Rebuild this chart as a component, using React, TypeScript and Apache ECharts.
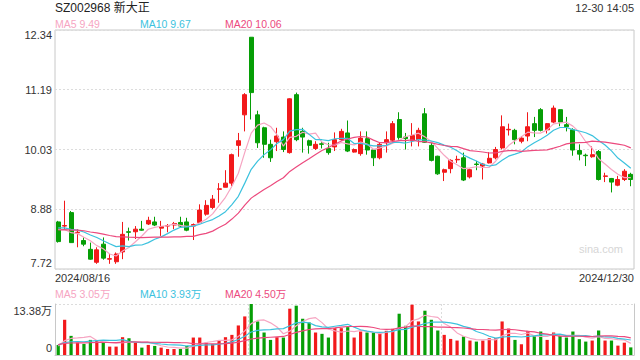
import React, { useEffect, useRef } from 'react';
import * as echarts from 'echarts';

// ---- trading days (categories) ----
const augDays = [16, 19, 20, 21, 22, 23, 26, 27, 28, 29, 30];
const sepDays = [2, 3, 4, 5, 6, 9, 10, 11, 12, 13, 18, 19, 20, 23, 24, 25, 26, 27, 30];
const octDays = [8, 9, 10, 11, 14, 15, 16, 17, 18, 21, 22, 23, 24, 25, 28, 29, 30, 31];
const novDays = [1, 4, 5, 6, 7, 8, 11, 12, 13, 14, 15, 18, 19, 20, 21, 22, 25, 26, 27, 28, 29];
const decDays = [2, 3, 4, 5, 6, 9, 10, 11, 12, 13, 16, 17, 18, 19, 20, 23, 24, 25, 26, 27, 30];

const p2 = (n: number) => String(n).padStart(2, '0');
const dates: string[] = [
  ...augDays.map((d) => `2024/08/${p2(d)}`),
  ...sepDays.map((d) => `2024/09/${p2(d)}`),
  ...octDays.map((d) => `2024/10/${p2(d)}`),
  ...novDays.map((d) => `2024/11/${p2(d)}`),
  ...decDays.map((d) => `2024/12/${p2(d)}`),
];

// ---- prices ----
const opens = [8.63, 8.55, 8.81, 8.42, 8.27, 8.10, 7.85, 8.20, 7.91, 7.86, 8.05, 8.44, 8.44, 8.49, 8.59, 8.63, 8.51, 8.55, 8.57, 8.62, 8.63, 8.55, 8.62, 8.78, 8.91, 9.26, 9.30, 9.38, 10.11, 10.70, 12.20, 10.70, 10.45, 10.13, 10.18, 10.27, 9.97, 11.09, 10.38, 10.20, 10.05, 10.14, 10.05, 10.08, 10.22, 10.35, 9.98, 9.95, 10.24, 10.02, 9.87, 10.16, 10.21, 10.61, 10.27, 10.20, 10.22, 10.72, 10.11, 9.90, 9.59, 9.66, 9.83, 9.87, 9.50, 9.75, 9.71, 9.77, 9.87, 10.06, 10.41, 10.40, 10.19, 10.29, 10.53, 10.80, 10.41, 10.56, 10.80, 10.51, 10.41, 10.01, 9.92, 9.89, 9.99, 9.51, 9.47, 9.34, 9.45, 9.55];
const closes = [8.25, 8.56, 8.23, 8.43, 8.20, 7.91, 8.09, 7.93, 7.92, 8.01, 8.39, 8.43, 8.49, 8.47, 8.66, 8.57, 8.54, 8.56, 8.60, 8.55, 8.47, 8.58, 8.86, 8.95, 9.07, 9.27, 9.38, 9.93, 10.20, 11.09, 11.13, 10.16, 10.13, 9.87, 10.29, 10.03, 11.01, 10.22, 10.27, 10.11, 10.13, 10.13, 9.97, 10.22, 10.38, 10.00, 10.03, 10.25, 10.02, 9.87, 10.13, 10.22, 10.53, 10.26, 10.24, 10.30, 10.40, 10.17, 9.82, 9.56, 9.64, 9.82, 9.84, 9.44, 9.64, 9.74, 9.75, 9.86, 10.03, 10.47, 10.42, 10.22, 10.25, 10.47, 10.40, 10.40, 10.53, 10.83, 10.56, 10.47, 10.02, 9.94, 9.91, 9.93, 9.45, 9.52, 9.40, 9.45, 9.61, 9.45];
const lows = [8.23, 8.49, 8.23, 8.14, 8.16, 7.90, 7.82, 7.90, 7.82, 7.82, 7.91, 8.27, 8.30, 8.46, 8.57, 8.55, 8.36, 8.43, 8.49, 8.52, 8.45, 8.28, 8.61, 8.75, 8.88, 9.00, 9.30, 9.32, 9.89, 10.38, 10.61, 10.06, 9.87, 9.79, 10.00, 9.98, 9.95, 10.19, 9.97, 9.95, 10.02, 10.05, 9.93, 10.00, 10.20, 9.98, 9.97, 9.91, 9.93, 9.71, 9.84, 9.97, 10.19, 10.22, 10.03, 10.09, 10.09, 10.16, 9.80, 9.54, 9.42, 9.57, 9.77, 9.42, 9.47, 9.63, 9.45, 9.76, 9.84, 10.03, 10.30, 10.13, 10.15, 10.19, 10.27, 10.38, 10.34, 10.54, 10.48, 10.38, 9.91, 9.82, 9.71, 9.87, 9.43, 9.40, 9.20, 9.32, 9.42, 9.32];
const highs = [8.65, 9.04, 8.84, 8.49, 8.33, 8.23, 8.14, 8.33, 8.01, 8.04, 8.63, 8.52, 8.55, 8.65, 8.73, 8.73, 8.65, 8.59, 8.63, 8.73, 8.71, 8.60, 8.97, 9.05, 9.15, 9.38, 9.63, 9.95, 10.35, 11.12, 12.20, 10.78, 10.47, 10.22, 10.45, 10.38, 11.02, 11.13, 10.45, 10.22, 10.19, 10.19, 10.16, 10.36, 10.43, 10.59, 10.05, 10.38, 10.38, 10.03, 10.16, 10.38, 10.58, 10.75, 10.35, 10.54, 10.45, 10.83, 10.16, 9.91, 9.66, 9.84, 9.91, 9.97, 9.66, 9.81, 9.77, 9.98, 10.08, 10.69, 10.53, 10.43, 10.29, 10.75, 10.66, 10.83, 10.54, 10.88, 10.80, 10.66, 10.44, 10.13, 9.95, 10.09, 10.02, 9.58, 9.48, 9.52, 9.65, 9.58];
// closes before 2024/08/16 (estimated from where the MA lines start)
const priorCloses = [8.38, 8.45, 8.41, 8.47, 8.40, 8.44, 8.39, 8.46, 8.43, 8.50, 8.56, 8.52, 8.58, 8.55, 8.51, 8.57, 8.54, 8.52, 8.55];

// ---- volumes (万) ----
const volumes = [2.64, 9.24, 5.02, 3.26, 2.90, 3.96, 3.79, 3.26, 2.20, 2.20, 4.67, 4.40, 3.26, 1.94, 2.64, 2.38, 1.94, 1.58, 1.58, 1.58, 2.38, 4.58, 4.58, 3.26, 2.90, 3.79, 4.67, 5.28, 7.75, 10.12, 13.38, 8.80, 5.90, 3.96, 4.67, 4.58, 12.15, 12.94, 9.51, 8.54, 5.90, 5.55, 4.58, 7.04, 7.04, 7.31, 4.58, 6.16, 5.90, 5.90, 5.55, 6.34, 6.87, 10.83, 7.66, 13.20, 8.80, 11.62, 9.24, 6.43, 5.28, 4.22, 3.79, 4.84, 3.79, 3.52, 3.79, 4.40, 4.40, 8.80, 6.93, 3.96, 2.82, 6.34, 5.02, 6.16, 3.96, 5.90, 5.02, 4.58, 6.16, 4.15, 3.52, 3.79, 6.43, 3.79, 3.79, 2.46, 3.23, 2.00];
const priorVolumes = [2.6, 3.1, 2.4, 2.9, 3.3, 2.7, 2.5, 3.0, 2.8, 2.6, 3.2, 2.9, 2.7, 3.4, 2.5, 2.3, 2.1, 2.6, 2.2];

// ---- axis ticks ----
const priceMin = 7.72;
const priceMax = 12.34;
const priceTickValues = [7.72, 8.875, 10.03, 11.185, 12.34];
const priceTickLabels = ['7.72', '8.88', '10.03', '11.19', '12.34'];
const volMax = 13.38;
const volTickValues = [0, 13.38];
const volTickLabels = ['0', '13.38万'];

const maPeriods = [5, 10, 20];

const RED = '#f2191b';
const GREEN = '#069e06';
const MA_COLORS = ['#f6a5c2', '#3cc2de', '#ec4a7e'];
const FONT = '"Liberation Sans", Arial, "Noto Sans CJK SC", sans-serif';

function movingAverage(values: number[], prior: number[], n: number): number[] {
  const all = [...prior, ...values];
  return values.map((_, i) => {
    const end = prior.length + i;
    let s = 0;
    for (let k = end - n + 1; k <= end; k++) s += all[k];
    return s / n;
  });
}

function makeFormatter(values: number[], labels: string[]) {
  return (v: number) => {
    const idx = values.findIndex((t) => Math.abs(t - v) < 1e-6);
    if (idx < 0) return '';
    const s = labels[idx];
    if (idx === values.length - 1) return `{t|${s}}`;
    if (idx === 0) return `{b|${s}}`;
    return s;
  };
}

export default function App() {
  const ref = useRef<HTMLDivElement>(null);

  useEffect(() => {
    document.body.style.margin = '0';
    if (!ref.current) return;
    const chart = echarts.init(ref.current, null, { renderer: 'svg' });

    const priceMA = maPeriods.map((n) => movingAverage(closes, priorCloses, n));
    const volMA = maPeriods.map((n) => movingAverage(volumes, priorVolumes, n));

    const candleData = opens.map((o, i) => [o, closes[i], lows[i], highs[i]]);
    const volData = volumes.map((v, i) => ({
      value: v,
      itemStyle: { color: closes[i] >= opens[i] ? RED : GREEN },
    }));

    const legendX = [55, 140, 225];
    const texts: any[] = [
      { type: 'text', x: 55, y: 8, style: { text: 'SZ002968 新大正', fontSize: 12, fill: '#222', align: 'left', verticalAlign: 'middle', fontFamily: FONT } },
      { type: 'text', x: 634, y: 8, style: { text: '12-30 14:05', fontSize: 11, fill: '#333', align: 'right', verticalAlign: 'middle', fontFamily: FONT } },
      { type: 'text', x: 55, y: 278, style: { text: dates[0], fontSize: 11, fill: '#333', align: 'left', verticalAlign: 'middle', fontFamily: FONT } },
      { type: 'text', x: 634, y: 278, style: { text: dates[dates.length - 1], fontSize: 11, fill: '#333', align: 'right', verticalAlign: 'middle', fontFamily: FONT } },
      { type: 'text', x: 623, y: 249, style: { text: 'sina.com', fontSize: 11, fill: '#d6d6d6', align: 'right', verticalAlign: 'middle', fontFamily: FONT } },
    ];
    maPeriods.forEach((n, k) => {
      const last = priceMA[k][priceMA[k].length - 1];
      texts.push({ type: 'text', x: legendX[k], y: 24, style: { text: `MA${n} ${last.toFixed(2)}`, fontSize: 10.5, fill: MA_COLORS[k], align: 'left', verticalAlign: 'middle', fontFamily: FONT } });
      const lastV = volMA[k][volMA[k].length - 1];
      texts.push({ type: 'text', x: legendX[k], y: 294, style: { text: `MA${n} ${lastV.toFixed(2)}万`, fontSize: 10.5, fill: MA_COLORS[k], align: 'left', verticalAlign: 'middle', fontFamily: FONT } });
    });

    const labelStyle = { fontSize: 11, color: '#333', fontFamily: FONT };
    const gridLine = { color: '#dcdcdc', type: [2, 2], width: 1 };

    const option: any = {
      animation: false,
      backgroundColor: '#ffffff',
      textStyle: { fontFamily: FONT },
      grid: [
        { left: 55, right: 6, top: 30, height: 239, show: true, borderColor: '#c8c8c8', borderWidth: 1, outerBoundsMode: 'none' },
        { left: 55, right: 6, top: 304, height: 51, show: false, outerBoundsMode: 'none' },
      ],
      xAxis: [
        {
          type: 'category', gridIndex: 0, data: dates, boundaryGap: true,
          axisLine: { show: false }, axisTick: { show: false }, axisLabel: { show: false }, splitLine: { show: false },
        },
        {
          type: 'category', gridIndex: 1, data: dates, boundaryGap: true,
          axisLine: { show: true, lineStyle: { color: '#c8c8c8' } },
          axisTick: { show: false, interval: 29 }, axisLabel: { show: false, interval: 29 },
          splitLine: { show: true, interval: 29, lineStyle: gridLine },
        },
      ],
      yAxis: [
        {
          type: 'value', gridIndex: 0, min: priceMin, max: priceMax, scale: true,
          axisLine: { show: false },
          axisTick: { show: false, customValues: priceTickValues },
          axisLabel: {
            ...labelStyle, margin: 3, customValues: priceTickValues,
            formatter: makeFormatter(priceTickValues, priceTickLabels),
            rich: { t: { ...labelStyle, padding: [10, 0, 0, 0] }, b: { ...labelStyle, padding: [0, 0, 12, 0] } },
          },
          splitLine: { show: true, lineStyle: gridLine },
        },
        {
          type: 'value', gridIndex: 1, min: 0, max: volMax,
          axisLine: { show: true, lineStyle: { color: '#c8c8c8' } },
          axisTick: { show: false, customValues: volTickValues },
          axisLabel: {
            ...labelStyle, margin: 3, customValues: volTickValues,
            formatter: makeFormatter(volTickValues, volTickLabels),
            rich: { t: { ...labelStyle, padding: [14, 0, 0, 0] }, b: { ...labelStyle, padding: [0, 0, 14, 0] } },
          },
          splitLine: { show: true, lineStyle: gridLine },
        },
        {
          type: 'value', gridIndex: 1, position: 'right', min: 0, max: volMax,
          axisLine: { show: true, lineStyle: { color: '#c8c8c8' } },
          axisTick: { show: false }, axisLabel: { show: false }, splitLine: { show: false },
        },
      ],
      series: [
        {
          type: 'candlestick', xAxisIndex: 0, yAxisIndex: 0, data: candleData, barWidth: '70%',
          itemStyle: { color: RED, color0: GREEN, borderColor: RED, borderColor0: GREEN, borderColorDoji: RED, borderWidth: 1 },
        },
        ...maPeriods.map((n, k) => ({
          type: 'line', name: `MA${n}`, xAxisIndex: 0, yAxisIndex: 0, data: priceMA[k],
          symbol: 'none', lineStyle: { color: MA_COLORS[k], width: 1.2 }, z: 5,
        })),
        {
          type: 'bar', xAxisIndex: 1, yAxisIndex: 1, data: volData, barWidth: '50%',
        },
        ...maPeriods.map((n, k) => ({
          type: 'line', name: `VMA${n}`, xAxisIndex: 1, yAxisIndex: 1, data: volMA[k],
          symbol: 'none', lineStyle: { color: MA_COLORS[k], width: 1.2 }, z: 5,
        })),
      ],
      graphic: texts,
    };

    chart.setOption(option);
    return () => chart.dispose();
  }, []);

  return <div ref={ref} style={{ width: 640, height: 360, position: 'absolute', left: 0, top: 0 }} />;
}
